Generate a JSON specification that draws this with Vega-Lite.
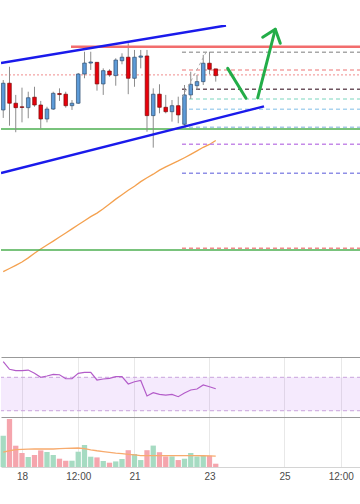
{
"$schema":"https://vega.github.io/schema/vega-lite/v6.json",
"padding":{"top":25,"left":0,"right":0,"bottom":0},
"background":"#ffffff",
"bounds":"flush",
"spacing":0,
"config":{"view":{"stroke":null},"axis":{"gridColor":"#e8e8e8","gridWidth":1,"labelFont":"Liberation Sans"},"font":"Liberation Sans"},
"datasets":{
"candles":[
{"t":"2019-09-17T12:00:00","o":10129.4,"h":10146.3,"l":10124.9,"c":10144.5,"ma":10038.0,"rsi":88.9,"v":2003,"vma":950},
{"t":"2019-09-17T16:00:00","o":10144.5,"h":10153.8,"l":10120.5,"c":10133.2,"ma":10039.8,"rsi":79.6,"v":3072,"vma":1040},
{"t":"2019-09-17T20:00:00","o":10133.2,"h":10137.9,"l":10116.8,"c":10130.7,"ma":10041.6,"rsi":77.9,"v":1363,"vma":1110},
{"t":"2019-09-18T00:00:00","o":10131.2,"h":10142.0,"l":10122.4,"c":10130.8,"ma":10043.5,"rsi":77.9,"v":896,"vma":1130},
{"t":"2019-09-18T04:00:00","o":10130.7,"h":10139.7,"l":10124.7,"c":10136.3,"ma":10045.8,"rsi":78.7,"v":640,"vma":1145},
{"t":"2019-09-18T08:00:00","o":10136.6,"h":10142.5,"l":10131.2,"c":10132.2,"ma":10048.4,"rsi":74.8,"v":768,"vma":1152},
{"t":"2019-09-18T12:00:00","o":10132.2,"h":10134.5,"l":10119.0,"c":10124.3,"ma":10050.8,"rsi":70.0,"v":1062,"vma":1152},
{"t":"2019-09-18T16:00:00","o":10124.3,"h":10131.2,"l":10122.4,"c":10129.9,"ma":10053.1,"rsi":71.6,"v":960,"vma":1152},
{"t":"2019-09-18T20:00:00","o":10129.9,"h":10139.7,"l":10129.4,"c":10138.8,"ma":10055.3,"rsi":73.6,"v":768,"vma":1152},
{"t":"2019-09-19T00:00:00","o":10138.7,"h":10141.6,"l":10134.5,"c":10138.1,"ma":10057.6,"rsi":73.1,"v":531,"vma":1170},
{"t":"2019-09-19T04:00:00","o":10138.3,"h":10139.7,"l":10130.7,"c":10131.8,"ma":10059.9,"rsi":68.3,"v":403,"vma":1190},
{"t":"2019-09-19T08:00:00","o":10131.8,"h":10135.0,"l":10129.4,"c":10133.2,"ma":10062.2,"rsi":68.3,"v":403,"vma":1200},
{"t":"2019-09-19T12:00:00","o":10133.2,"h":10150.3,"l":10132.8,"c":10149.7,"ma":10064.5,"rsi":74.8,"v":979,"vma":1216},
{"t":"2019-09-19T16:00:00","o":10149.7,"h":10162.3,"l":10147.3,"c":10155.9,"ma":10066.8,"rsi":76.0,"v":1408,"vma":1180},
{"t":"2019-09-19T20:00:00","o":10155.9,"h":10162.3,"l":10152.0,"c":10156.5,"ma":10069.1,"rsi":76.0,"v":659,"vma":1100},
{"t":"2019-09-20T00:00:00","o":10156.3,"h":10156.5,"l":10140.3,"c":10144.1,"ma":10071.1,"rsi":66.8,"v":614,"vma":1040},
{"t":"2019-09-20T04:00:00","o":10144.1,"h":10152.9,"l":10137.9,"c":10151.6,"ma":10073.6,"rsi":68.0,"v":384,"vma":990},
{"t":"2019-09-20T08:00:00","o":10151.4,"h":10152.4,"l":10148.2,"c":10149.2,"ma":10076.3,"rsi":68.8,"v":275,"vma":940},
{"t":"2019-09-20T12:00:00","o":10148.8,"h":10158.6,"l":10143.1,"c":10157.6,"ma":10079.0,"rsi":70.7,"v":358,"vma":890},
{"t":"2019-09-20T16:00:00","o":10157.2,"h":10161.4,"l":10155.2,"c":10159.2,"ma":10081.5,"rsi":70.7,"v":512,"vma":850},
{"t":"2019-09-20T20:00:00","o":10159.2,"h":10167.1,"l":10138.3,"c":10147.3,"ma":10084.0,"rsi":62.0,"v":1075,"vma":810},
{"t":"2019-09-21T00:00:00","o":10147.3,"h":10163.3,"l":10142.5,"c":10159.2,"ma":10086.3,"rsi":64.7,"v":832,"vma":770},
{"t":"2019-09-21T04:00:00","o":10159.2,"h":10163.3,"l":10152.9,"c":10159.9,"ma":10088.9,"rsi":66.2,"v":445,"vma":730},
{"t":"2019-09-21T08:00:00","o":10159.9,"h":10163.3,"l":10117.1,"c":10126.2,"ma":10091.1,"rsi":47.6,"v":1075,"vma":723},
{"t":"2019-09-21T12:00:00","o":10126.2,"h":10141.6,"l":10108.1,"c":10138.3,"ma":10093.1,"rsi":51.6,"v":1370,"vma":723},
{"t":"2019-09-21T16:00:00","o":10138.3,"h":10143.9,"l":10127.5,"c":10130.9,"ma":10095.4,"rsi":49.6,"v":947,"vma":723},
{"t":"2019-09-21T20:00:00","o":10130.9,"h":10137.9,"l":10127.5,"c":10128.4,"ma":10097.2,"rsi":48.8,"v":678,"vma":723},
{"t":"2019-09-22T00:00:00","o":10128.4,"h":10135.0,"l":10122.8,"c":10131.8,"ma":10098.9,"rsi":49.6,"v":678,"vma":723},
{"t":"2019-09-22T04:00:00","o":10131.8,"h":10136.9,"l":10121.9,"c":10126.6,"ma":10100.6,"rsi":46.8,"v":445,"vma":723},
{"t":"2019-09-22T08:00:00","o":10121.3,"h":10143.5,"l":10120.5,"c":10137.9,"ma":10102.4,"rsi":51.2,"v":531,"vma":723},
{"t":"2019-09-22T12:00:00","o":10137.9,"h":10151.0,"l":10135.6,"c":10143.9,"ma":10104.3,"rsi":54.8,"v":896,"vma":723},
{"t":"2019-09-22T16:00:00","o":10143.1,"h":10149.2,"l":10140.7,"c":10145.4,"ma":10106.3,"rsi":56.0,"v":678,"vma":723},
{"t":"2019-09-22T20:00:00","o":10145.4,"h":10160.5,"l":10143.5,"c":10155.8,"ma":10108.3,"rsi":60.8,"v":723,"vma":720},
{"t":"2019-09-23T00:00:00","o":10155.8,"h":10162.3,"l":10149.6,"c":10152.4,"ma":10109.9,"rsi":58.7,"v":723,"vma":710},
{"t":"2019-09-23T04:00:00","o":10152.6,"h":10152.6,"l":10145.4,"c":10148.8,"ma":10112.1,"rsi":56.3,"v":211,"vma":690}
],
"levels":[
{"name":"resistance","group":"resistance","start":"2019-09-19T07:22:00","end":"2019-09-27T00:58:00","price":10165.1},
{"name":"pivot","group":"pivot","start":"2019-09-17T10:34:00","end":"2019-09-27T00:58:00","price":10149.2},
{"name":"support","group":"support","start":"2019-09-17T10:34:00","end":"2019-09-27T00:58:00","price":10118.6},
{"name":"support2","group":"support","start":"2019-09-17T10:34:00","end":"2019-09-27T00:58:00","price":10050.3},
{"name":"fib0","group":"fib","start":"2019-09-22T06:24:00","end":"2019-09-27T00:58:00","price":10162.0},
{"name":"fib1","group":"fib","start":"2019-09-22T06:24:00","end":"2019-09-27T00:58:00","price":10152.0},
{"name":"fib2","group":"fib","start":"2019-09-22T06:24:00","end":"2019-09-27T00:58:00","price":10141.1},
{"name":"fib3","group":"fib","start":"2019-09-22T06:24:00","end":"2019-09-27T00:58:00","price":10135.6},
{"name":"fib4","group":"fib","start":"2019-09-22T06:24:00","end":"2019-09-27T00:58:00","price":10129.8},
{"name":"fib5","group":"fib","start":"2019-09-22T06:24:00","end":"2019-09-27T00:58:00","price":10119.6},
{"name":"fib6","group":"fib","start":"2019-09-22T06:24:00","end":"2019-09-27T00:58:00","price":10110.0},
{"name":"fib7","group":"fib","start":"2019-09-22T06:24:00","end":"2019-09-27T00:58:00","price":10093.6},
{"name":"fib8","group":"fib","start":"2019-09-22T06:24:00","end":"2019-09-27T00:58:00","price":10051.2}
],
"drawings":[
{"name":"upper","t":"2019-09-17T10:34:00","p":10155.9},
{"name":"upper","t":"2019-09-23T10:34:00","p":10177.1},
{"name":"lower","t":"2019-09-17T10:34:00","p":10093.8},
{"name":"lower","t":"2019-09-24T10:53:00","p":10131.4},
{"name":"fibdiag","t":"2019-09-22T06:43:00","p":10136.7},
{"name":"fibdiag","t":"2019-09-22T22:05:00","p":10162.4},
{"name":"arrow1","t":"2019-09-23T11:39:00","p":10152.9},
{"name":"arrow1","t":"2019-09-23T23:22:00","p":10136.0},
{"name":"arrow2","t":"2019-09-24T06:51:00","p":10136.2},
{"name":"arrow2","t":"2019-09-24T18:06:00","p":10175.0},
{"name":"head","t":"2019-09-24T10:03:00","p":10170.5},
{"name":"head","t":"2019-09-24T18:06:00","p":10175.0},
{"name":"head","t":"2019-09-24T21:18:00","p":10167.1}
]
},
"vconcat":[
{"width":360,"height":332,
 "layer":[
  {"data":{"name":"candles"},"mark":{"type":"line","color":"#f4a14f","strokeWidth":1.3,"clip":true},
   "encoding":{
    "x":{"field":"t","type":"temporal","scale":{"domain":[{"year":2019,"month":9,"date":17,"hours":10,"minutes":34},{"year":2019,"month":9,"date":27,"hours":0,"minutes":58}],"nice":false,"padding":0},
      "axis":{"orient":"top","values":[{"year":2019,"month":9,"date":18,"hours":0},{"year":2019,"month":9,"date":19,"hours":12},{"year":2019,"month":9,"date":21,"hours":0},{"year":2019,"month":9,"date":23,"hours":0},{"year":2019,"month":9,"date":25,"hours":0},{"year":2019,"month":9,"date":26,"hours":12}],"grid":true,"labels":false,"ticks":false,"domain":true,"domainColor":"#999999","title":null}},
    "y":{"field":"ma","type":"quantitative","scale":{"domain":[9989.8,10177.4],"zero":false,"nice":false},
      "axis":{"values":[10000,10010,10020,10030,10040,10050,10060,10070,10080,10090,10100,10110,10120,10130,10140,10150,10160,10170],"grid":true,"labels":false,"ticks":false,"domain":false,"title":null}}}},
  {"data":{"name":"levels"},"transform":[{"filter":{"field":"group","equal":"support"}}],
   "mark":{"type":"rule","color":"#4caf50","strokeWidth":1.5,"clip":true},
   "encoding":{"x":{"field":"start","type":"temporal","axis":null},"x2":{"field":"end"},"y":{"field":"price","type":"quantitative","axis":null}}},
  {"data":{"name":"levels"},"transform":[{"filter":{"field":"group","equal":"pivot"}}],
   "mark":{"type":"rule","color":"#f08c8c","strokeWidth":1,"strokeDash":[2,2],"clip":true},
   "encoding":{"x":{"field":"start","type":"temporal","axis":null},"x2":{"field":"end"},"y":{"field":"price","type":"quantitative","axis":null}}},
  {"data":{"name":"levels"},"transform":[{"filter":{"field":"group","equal":"fib"}}],
   "mark":{"type":"rule","strokeWidth":1.5,"strokeDash":[4,3],"clip":true},
   "encoding":{"x":{"field":"start","type":"temporal","axis":null},"x2":{"field":"end"},"y":{"field":"price","type":"quantitative","axis":null},
    "color":{"field":"name","type":"nominal","legend":null,"scale":{"domain":["fib0","fib1","fib2","fib3","fib4","fib5","fib6","fib7","fib8"],"range":["#a8a8a8","#f3a3a3","#6e5560","#a6e3d3","#a9d3ef","#a9c9e6","#c58ae8","#8f8fe6","#f08a8a"]}}}},
  {"data":{"name":"candles"},"mark":{"type":"rule","color":"#8c8c8c","strokeWidth":1,"clip":true},
   "encoding":{"x":{"field":"t","type":"temporal","axis":null},"y":{"field":"l","type":"quantitative","axis":null},"y2":{"field":"h"}}},
  {"data":{"name":"candles"},"mark":{"type":"bar","size":3.6,"strokeWidth":0.7,"clip":true},
   "encoding":{"x":{"field":"t","type":"temporal","axis":null},"y":{"field":"o","type":"quantitative","axis":null},"y2":{"field":"c"},
    "fill":{"condition":{"test":"datum.c >= datum.o","value":"#5d9bd8"},"value":"#e8000b"},
    "stroke":{"condition":{"test":"datum.c >= datum.o","value":"#2f4e6e"},"value":"#7a0a0a"}}},
  {"data":{"name":"levels"},"transform":[{"filter":{"field":"group","equal":"resistance"}}],
   "mark":{"type":"rule","color":"#f26d6d","strokeWidth":2.5,"clip":true},
   "encoding":{"x":{"field":"start","type":"temporal","axis":null},"x2":{"field":"end"},"y":{"field":"price","type":"quantitative","axis":null}}},
  {"data":{"name":"drawings"},"transform":[{"filter":{"field":"name","equal":"fibdiag"}}],
   "mark":{"type":"line","color":"#aaaaaa","strokeWidth":1,"strokeDash":[3,3],"clip":true},
   "encoding":{"x":{"field":"t","type":"temporal","axis":null},"y":{"field":"p","type":"quantitative","axis":null},"detail":{"field":"name"}}},
  {"data":{"name":"drawings"},"transform":[{"filter":{"field":"name","oneOf":["upper","lower"]}}],
   "mark":{"type":"line","color":"#1a1aeb","strokeWidth":2.5,"clip":true},
   "encoding":{"x":{"field":"t","type":"temporal","axis":null},"y":{"field":"p","type":"quantitative","axis":null},"detail":{"field":"name"}}},
  {"data":{"name":"drawings"},"transform":[{"filter":{"field":"name","oneOf":["arrow1","arrow2","head"]}}],
   "mark":{"type":"line","color":"#23ad48","strokeWidth":3,"strokeCap":"round","strokeJoin":"round","clip":true},
   "encoding":{"x":{"field":"t","type":"temporal","axis":null},"y":{"field":"p","type":"quantitative","axis":null},"detail":{"field":"name"}}}
 ]},
{"width":360,"height":60,
 "layer":[
  {"data":{"values":[{"hi":70,"lo":30}]},"mark":{"type":"rect","color":"#a040f0","opacity":0.11},
   "encoding":{"y":{"field":"hi","type":"quantitative","axis":null},"y2":{"field":"lo"}}},
  {"data":{"values":[{"lvl":70},{"lvl":30}]},"mark":{"type":"rule","color":"#c9a3dc","strokeDash":[4,3],"strokeWidth":1},
   "encoding":{"y":{"field":"lvl","type":"quantitative","axis":null}}},
  {"data":{"name":"candles"},"mark":{"type":"line","color":"#b35cc9","strokeWidth":1.2},
   "encoding":{
    "x":{"field":"t","type":"temporal","scale":{"domain":[{"year":2019,"month":9,"date":17,"hours":10,"minutes":34},{"year":2019,"month":9,"date":27,"hours":0,"minutes":58}],"nice":false,"padding":0},
      "axis":{"orient":"top","values":[{"year":2019,"month":9,"date":18,"hours":0},{"year":2019,"month":9,"date":19,"hours":12},{"year":2019,"month":9,"date":21,"hours":0},{"year":2019,"month":9,"date":23,"hours":0},{"year":2019,"month":9,"date":25,"hours":0},{"year":2019,"month":9,"date":26,"hours":12}],"grid":true,"labels":false,"ticks":false,"domain":true,"domainColor":"#999999","title":null}},
    "y":{"field":"rsi","type":"quantitative","scale":{"domain":[22.5,94.3],"zero":false,"nice":false},
      "axis":{"values":[40,60,80],"grid":true,"labels":false,"ticks":false,"domain":false,"title":null}}}}
 ]},
{"width":360,"height":50,
 "resolve":{"axis":{"x":"independent"}},
 "layer":[
  {"data":{"name":"candles"},"mark":{"type":"bar","size":5.3},
   "encoding":{
    "x":{"field":"t","type":"temporal","scale":{"domain":[{"year":2019,"month":9,"date":17,"hours":10,"minutes":34},{"year":2019,"month":9,"date":27,"hours":0,"minutes":58}],"nice":false,"padding":0},
      "axis":{"orient":"bottom","values":[{"year":2019,"month":9,"date":18,"hours":0},{"year":2019,"month":9,"date":19,"hours":12},{"year":2019,"month":9,"date":21,"hours":0},{"year":2019,"month":9,"date":23,"hours":0},{"year":2019,"month":9,"date":25,"hours":0},{"year":2019,"month":9,"date":26,"hours":12}],"grid":true,"ticks":false,"tickSize":0,"domain":true,"domainColor":"#d4d4d4","labelExpr":"hours(datum.value) == 12 ? '12:00' : '' + date(datum.value)","labelFontSize":10,"labelColor":"#4a4a4a","labelPadding":4,"labelFlush":false,"labelOverlap":false,"title":null}},
    "y":{"field":"v","type":"quantitative","scale":{"domain":[0,3200],"nice":false},
      "axis":{"values":[2000],"grid":true,"labels":false,"ticks":false,"domain":false,"title":null}},
    "fill":{"condition":{"test":"datum.c >= datum.o","value":"#a6dbc2"},"value":"#f5a5ad"}}},
  {"data":{"name":"candles"},"mark":{"type":"line","color":"#f7ab6e","strokeWidth":1.3},
   "encoding":{
    "x":{"field":"t","type":"temporal","axis":{"orient":"top","grid":false,"ticks":false,"labels":false,"domain":true,"domainColor":"#999999","title":null}},
    "y":{"field":"vma","type":"quantitative","axis":null}}}
 ]},
{"width":360,"height":16,
 "data":{"name":"candles"},"mark":{"type":"point","opacity":0},
 "encoding":{"x":{"field":"t","type":"temporal","scale":{"domain":[{"year":2019,"month":9,"date":17,"hours":10,"minutes":34},{"year":2019,"month":9,"date":27,"hours":0,"minutes":58}],"nice":false,"padding":0},
   "axis":{"orient":"bottom","grid":false,"ticks":false,"labels":false,"domain":true,"domainColor":"#999999","title":null}}}}
]
}
